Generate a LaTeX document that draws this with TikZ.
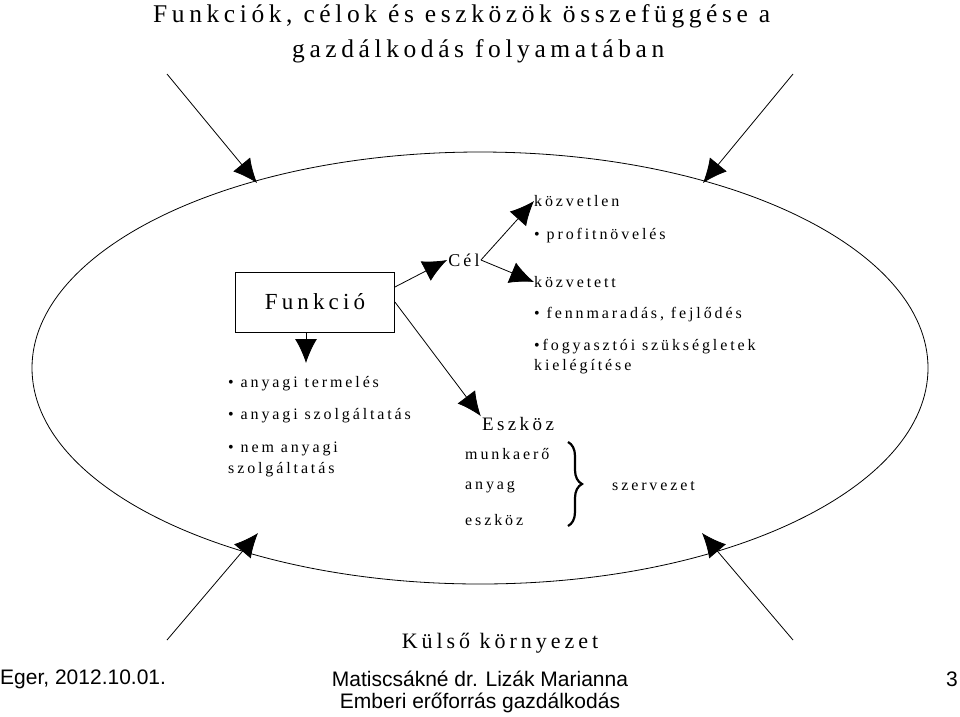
\documentclass[tikz,border=0pt]{standalone}
\usepackage{fontspec}
\setmainfont{Liberation Serif}
\setsansfont{Liberation Sans}
\newfontfamily\spaced[LetterSpace=18]{Liberation Serif}
\usetikzlibrary{arrows.meta,decorations.pathreplacing}

\begin{document}
\begin{tikzpicture}[x=1pt,y=-1pt,
	txt/.style={anchor=west,inner sep=0pt,font=\spaced\fontsize{16}{18}\selectfont},
	foot/.style={inner sep=0pt,font=\sffamily\fontsize{21}{24}\selectfont},
	arr/.style={-{Latex[length=24pt,width=22pt]},line width=0.8pt}]
	\useasboundingbox (0,0) rectangle (960,716);
	% title
	\node [anchor=west,inner sep=0pt,font=\spaced\fontsize{25.5}{30}\selectfont] (title1) at (153,16) {Funkciók, célok és eszközök összefüggése a};
	\node [anchor=west,inner sep=0pt,font=\spaced\fontsize{25.5}{30}\selectfont] (title2) at (292,51) {gazdálkodás folyamatában};
	% environment
	\draw [line width=0.8pt] (480,368) ellipse (448 and 216);
	\coordinate (tl) at (167,74);
	\coordinate (tr) at (793,74);
	\coordinate (bl) at (167,640);
	\coordinate (br) at (793,640);
	\coordinate (tle) at (257,183);
	\coordinate (tre) at (703,183);
	\coordinate (ble) at (258,533);
	\coordinate (bre) at (702,533);
	\draw [arr] (tl) -- (tle);
	\draw [arr] (tr) -- (tre);
	\draw [arr] (bl) -- (ble);
	\draw [arr] (br) -- (bre);
	% funkcio
	\node [draw,line width=0.8pt,minimum width=159pt,minimum height=60pt,font=\spaced\fontsize{23}{26}\selectfont] (funkcio) at (315,302) {Funkció};
	\coordinate (lista) at (306,363);
	\draw [arr] (funkcio.south -| lista) -- (lista);
	\node [txt] (f1) at (228,384) {• anyagi termelés};
	\node [txt] (f2) at (228,416) {• anyagi szolgáltatás};
	\node [txt] (f3) at (228,449) {• nem anyagi};
	\node [txt] (f4) at (228,470) {szolgáltatás};
	% cel
	\node [inner sep=1pt,font=\spaced\fontsize{18}{20}\selectfont] (cel) at (464,260) {Cél};
	\draw [arr] (funkcio.east |- 0,287) -- (cel.west);
	\node [txt] (kozv1) at (534,201) {közvetlen};
	\node [txt] (profit) at (534,236) {• profitnövelés};
	\node [txt] (kozv2) at (534,282) {közvetett};
	\node [txt] (fenn) at (534,315) {• fennmaradás, fejlődés};
	\node [txt] (fogy) at (534,347) {•fogyasztói szükségletek};
	\node [txt] (kiel) at (534,367) {kielégítése};
	\draw [arr] (cel.east) -- (kozv1.west);
	\draw [arr] (cel.east) -- (kozv2.west);
	% eszkoz
	\node [inner sep=1pt,font=\spaced\fontsize{19}{22}\selectfont] (eszkoz) at (518,424) {Eszköz};
	\draw [arr] (funkcio.east |- 0,302) -- (eszkoz.north west);
	\node [txt] (e1) at (465,454) {munkaerő};
	\node [txt] (e2) at (465,487) {anyag};
	\node [txt] (e3) at (465,520) {eszköz};
	\draw [decorate,decoration={brace,amplitude=14pt},line width=2.2pt] (568,442) -- (568,526);
	\node [txt] (szerv) at (612,486) {szervezet};
	% footer
	\node [inner sep=0pt,font=\spaced\fontsize{22}{26}\selectfont] (kulso) at (500,643) {Külső környezet};
	\node [foot,anchor=west] (eger) at (0,679) {Eger, 2012.10.01.};
	\node [foot] (nev) at (480,679) {Matiscsákné dr. Lizák Marianna};
	\node [foot] (targy) at (480,703) {Emberi erőforrás gazdálkodás};
	\node [foot,anchor=east] (lap) at (958,679) {3};
\end{tikzpicture}
\end{document}
